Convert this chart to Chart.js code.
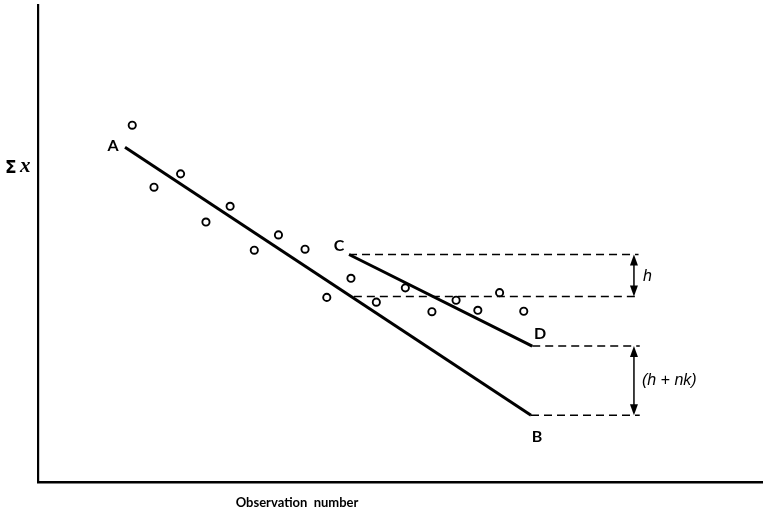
<!DOCTYPE html>
<html>
<head>
<meta charset="utf-8">
<script src="https://cdn.jsdelivr.net/npm/chart.js@4/dist/chart.umd.min.js"></script>
<style>
  html, body { margin: 0; padding: 0; background: #fff; }
</style>
</head>
<body>
<canvas id="cusumChart" width="763" height="513"></canvas>
<script>
// observation number and cumulative sum for each plotted point
const obsNumber = [3.9, 4.8, 5.9, 6.95, 7.95, 8.95, 9.95, 11.05, 11.95, 12.95, 14.0, 15.2, 16.3, 17.3, 18.2, 19.1, 20.1];
const cumSum = [74.8, 61.8, 64.6, 54.5, 57.8, 48.6, 51.8, 48.8, 38.7, 42.7, 37.7, 40.7, 35.7, 38.1, 36.0, 39.7, 35.8];

// trend line A-B and line C-D (endpoints)
const lineABx = [3.6, 20.4];
const lineABy = [70.2, 14.0];
const lineCDx = [12.87, 20.45];
const lineCDy = [47.7, 28.5];

// dashed reference levels
const levelTop = 47.7;    // through C
const levelMid = 38.9;    // h below C
const levelD = 28.5;
const levelB = 14.0;
const dashEnd = 24.85;
const arrowX = 24.66;

function seg(xs, ys) {
  return xs.map(function (x, i) { return { x: x, y: ys[i] }; });
}

var solidLine = { type: "line", showLine: true, pointRadius: 0, borderColor: "#000", borderWidth: 3, borderCapStyle: "butt", fill: false };
var dashedLine = { type: "line", showLine: true, pointRadius: 0, borderColor: "#000", borderWidth: 1.6, borderDash: [8, 5], fill: false };

var annotations = {
  id: "annotations",
  afterDatasetsDraw: function (chart) {
    var ctx = chart.ctx;
    var xs = chart.scales.x, ys = chart.scales.y;
    ctx.save();
    ctx.fillStyle = "#000";
    ctx.strokeStyle = "#000";

    function arrow(xv, y1, y2) {
      var x = xs.getPixelForValue(xv);
      var p1 = ys.getPixelForValue(y1), p2 = ys.getPixelForValue(y2);
      ctx.lineWidth = 1.5;
      ctx.beginPath();
      ctx.moveTo(x, p1 + 8);
      ctx.lineTo(x, p2 - 8);
      ctx.stroke();
      ctx.beginPath();
      ctx.moveTo(x, p1); ctx.lineTo(x - 4, p1 + 11); ctx.lineTo(x + 4, p1 + 11); ctx.closePath();
      ctx.fill();
      ctx.beginPath();
      ctx.moveTo(x, p2); ctx.lineTo(x - 4, p2 - 11); ctx.lineTo(x + 4, p2 - 11); ctx.closePath();
      ctx.fill();
    }
    arrow(arrowX, levelTop, levelMid);
    arrow(arrowX, levelD, levelB);

    ctx.font = "bold 16px Lato";
    ctx.textBaseline = "middle";
    ctx.textAlign = "center";
    ctx.fillText("A", xs.getPixelForValue(lineABx[0]) - 12, ys.getPixelForValue(lineABy[0]) - 1);
    ctx.fillText("B", xs.getPixelForValue(lineABx[1]) + 6, ys.getPixelForValue(lineABy[1]) + 22);
    ctx.fillText("C", xs.getPixelForValue(lineCDx[0]) - 10, ys.getPixelForValue(lineCDy[0]) - 9);
    ctx.fillText("D", xs.getPixelForValue(lineCDx[1]) + 8, ys.getPixelForValue(lineCDy[1]) - 12);

    var ax = xs.getPixelForValue(arrowX);
    ctx.textAlign = "left";
    ctx.font = "italic 16px 'Liberation Sans'";
    ctx.fillText("h", ax + 9, (ys.getPixelForValue(levelTop) + ys.getPixelForValue(levelMid)) / 2 + 1);
    ctx.fillText("(h + nk)", ax + 8, (ys.getPixelForValue(levelD) + ys.getPixelForValue(levelB)) / 2);

    // axis titles
    ctx.font = "bold 17px 'DejaVu Sans'";
    ctx.fillText("\u03A3", 5, 169);
    ctx.font = "italic bold 21px 'Liberation Serif'";
    ctx.fillText("x", 20, 167);

    ctx.textAlign = "center";
    ctx.font = "bold 13px Lato";
    ctx.fillText("Observation  number", 297, 503);
    ctx.restore();
  }
};

var ctx = document.getElementById("cusumChart").getContext("2d");
var cusumChart = new Chart(ctx, {
  type: "scatter",
  data: {
    datasets: [
      {
        label: "Observations",
        data: seg(obsNumber, cumSum),
        pointRadius: 3.6,
        pointBorderWidth: 1.9,
        pointBorderColor: "#000",
        pointBackgroundColor: "#fff",
      },
      Object.assign({ label: "A-B", data: seg(lineABx, lineABy) }, solidLine),
      Object.assign({ label: "C-D", data: seg(lineCDx, lineCDy) }, solidLine),
      Object.assign({ label: "level C", data: seg([lineCDx[0], dashEnd], [levelTop, levelTop]) }, dashedLine),
      Object.assign({ label: "level h", data: seg([13.07, dashEnd], [levelMid, levelMid]) }, dashedLine),
      Object.assign({ label: "level D", data: seg([lineCDx[1], dashEnd + 0.05], [levelD, levelD]) }, dashedLine),
      Object.assign({ label: "level B", data: seg([lineABx[1], dashEnd + 0.05], [levelB, levelB]) }, dashedLine),
    ],
  },
  options: {
    responsive: false,
    animation: false,
    layout: { autoPadding: false, padding: { top: 5, right: 0, bottom: 0, left: 0 } },
    plugins: { legend: { display: false }, tooltip: { enabled: false } },
    scales: {
      x: {
        type: "linear",
        min: 0,
        max: 30,
        grid: { display: false },
        ticks: { display: false },
        border: { display: true, color: "#000", width: 2.5 },
        afterFit: function (scale) { scale.height = 31; },
      },
      y: {
        min: 0,
        max: 100,
        grid: { display: false },
        ticks: { display: false },
        border: { display: true, color: "#000", width: 2.2 },
        afterFit: function (scale) { scale.width = 38; },
      },
    },
  },
  plugins: [annotations],
});
</script>
</body>
</html>
